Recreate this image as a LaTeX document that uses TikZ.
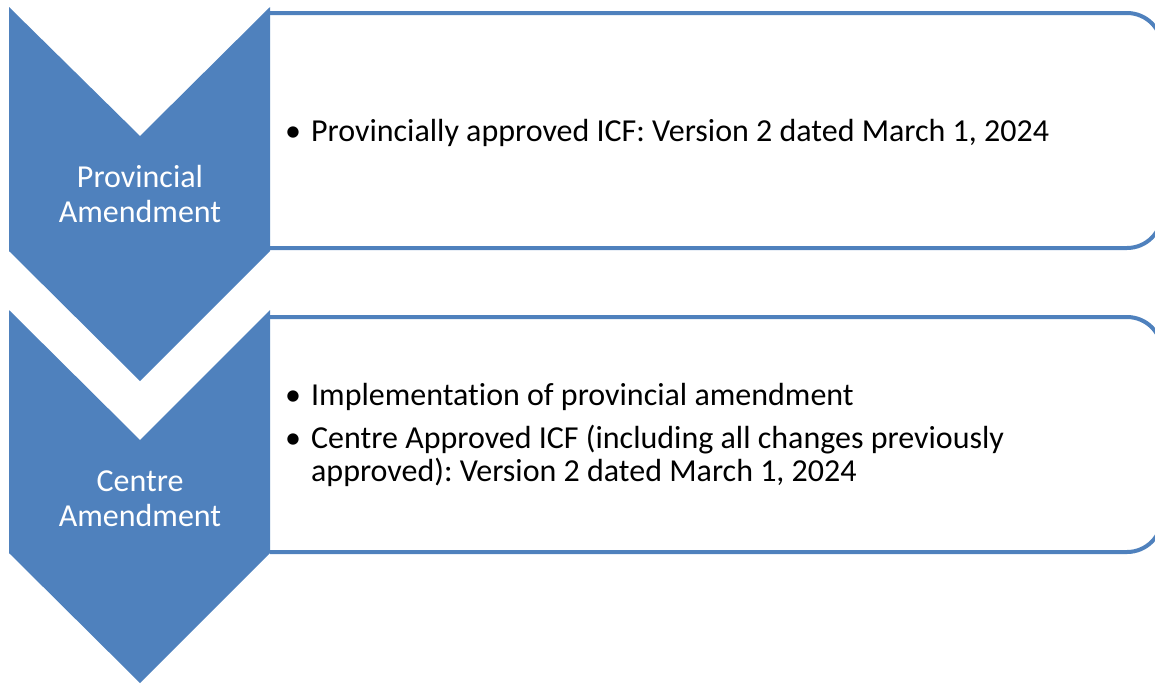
\documentclass[tikz,border=0pt]{standalone}
\usepackage{fontspec}
\setmainfont{Carlito}[Ligatures=NoCommon]
\definecolor{accent}{HTML}{4F81BD}
\frenchspacing
\begin{document}
\begin{tikzpicture}[x=1pt,y=-1pt,
  chevron/.style={fill=accent, draw=none},
  panel/.style={draw=accent, line width=4pt, fill=white, rounded corners=35pt},
  stagelabel/.style={text=white, align=center, inner sep=0pt,
    font=\fontsize{32}{35}\selectfont},
  itemtext/.style={anchor=west, align=left, inner sep=0pt,
    font=\fontsize{32}{33}\selectfont}]
  \useasboundingbox (0,0) rectangle (1155,683);

  % detail panels (left edge hidden behind the chevrons)
  \draw[panel] (270,13) -- (1162,13) -- (1162,248) -- (270,248);
  \draw[panel] (270,317) -- (1162,317) -- (1162,552) -- (270,552);

  % stage chevrons
  \fill[chevron] (9,7) -- (140,136) -- (270,7) -- (270,251) -- (140,381) -- (9,251) -- cycle;
  \fill[chevron] (9,310) -- (140,440) -- (270,310) -- (270,553) -- (140,683) -- (9,553) -- cycle;

  % stage names
  \node[stagelabel] (prov) at (140,194) {Provincial\\Amendment};
  \node[stagelabel] (centre) at (140,499) {Centre\\Amendment};

  % panel contents
  \node[itemtext] (provitems) at (285,135) {%
    \begin{tabular}{@{}l@{\hspace{10pt}}l@{}}
      \textbullet & Provincially approved ICF: Version 2 dated March 1, 2024
    \end{tabular}};
  \node[itemtext] (centreitems) at (285,437) {%
    \begin{tabular}{@{}l@{\hspace{10pt}}l@{}}
      \textbullet & Implementation of provincial amendment\\[9pt]
      \textbullet & Centre Approved ICF (including all changes previously\\
                  & approved): Version 2 dated March 1, 2024
    \end{tabular}};
\end{tikzpicture}
\end{document}
